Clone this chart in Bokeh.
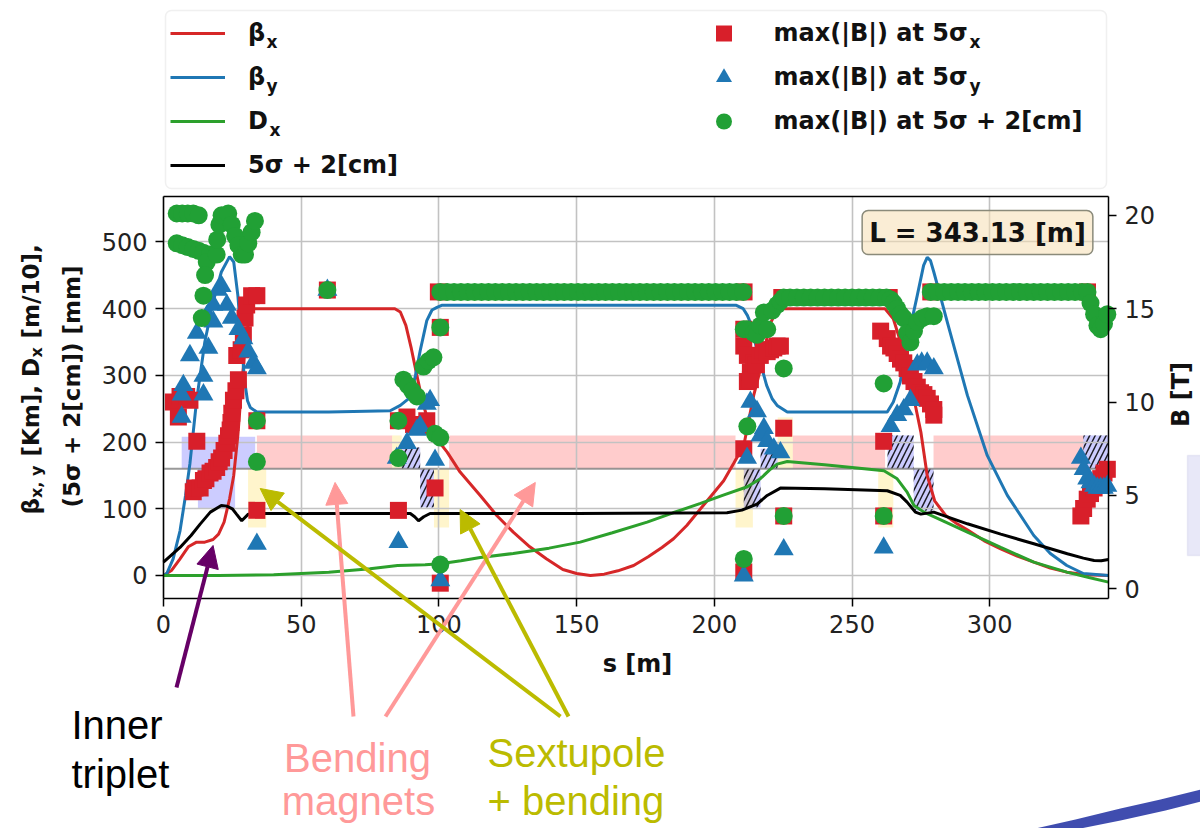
from math import pi
from bokeh.plotting import figure
from bokeh.models import (Range1d, LinearAxis, Legend, LegendItem, Label, Arrow, NormalHead,
                          FixedTicker, BoxAnnotation, PolyAnnotation, Grid)
from bokeh.embed import file_html
from bokeh.resources import INLINE

# ---------------- data ----------------
L_ring = 343.13
x_ticks = [0, 50, 100, 150, 200, 250, 300]
y_ticks = [0, 100, 200, 300, 400, 500]
b_ticks = [0, 5, 10, 15, 20]
xlim = (0, L_ring)
ylim = (-34.5, 568.2)
blim = (-0.52, 21.01)

# beta_x [Km]
s_bx = [0, 3, 6, 9, 12, 15, 18, 20, 22, 24, 25.5, 27, 28.5, 30, 31.5, 33, 50, 70, 84, 86,
        88, 90, 92, 94, 96, 98, 100.5, 103, 107.7, 115, 121, 127, 133, 139, 145, 150, 155, 160, 165, 170.7,
        176, 181, 185.2, 190, 195, 199, 203.4, 207, 210.7, 214.3, 217.4, 220, 223, 240, 262, 265, 268, 270,
        272.5, 275, 277.3, 280, 284, 288, 292, 298, 304, 310, 316, 322, 328, 335, 343.13]
beta_x = [0, 8, 25, 43, 50, 50, 54, 62, 80, 115, 150, 210, 290, 360, 392, 400, 400, 400, 400, 395,
          375, 340, 300, 262, 232, 212, 198, 185, 155, 120, 90, 65, 43, 25, 9, 3, 0, 2, 7, 15,
          28, 42, 55, 75, 100, 120, 142, 168, 195, 270, 320, 375, 400, 400, 400, 385, 345, 305,
          265, 215, 150, 112, 90, 78, 68, 52, 40, 29, 20, 11, 5, 1, 0]

# beta_y [Km]
s_by = [0, 1.2, 3.5, 6, 8, 9.6, 12, 15, 18, 21, 24, 25.5, 27, 28.5, 29.5, 30.5, 31.5, 33.9, 60, 82.3,
        86, 89.6, 91.5, 93.2, 95.6, 97.5, 99.3, 101, 150, 208, 210.5, 212, 213, 216, 219, 221, 222.8, 226.5,
        262.8, 265, 267.5, 270, 273.7, 276, 277.3, 278.5, 279.7, 282, 284.6, 291.9, 299.1, 306.4, 316,
        322, 328, 334, 343.13]
beta_y = [0, 3, 25, 67, 120, 168, 262, 350, 410, 455, 478, 470, 420, 340, 290, 262, 252, 245, 245, 247,
          255, 267, 300, 337, 382, 398, 402, 405, 405, 405, 400, 390, 380, 330, 285, 265, 255, 245,
          245, 260, 290, 350, 420, 465, 477, 472, 455, 420, 380, 270, 180, 120, 60,
          33, 15, 3, 0]

# D_x [m/10]
s_dx = [0, 20, 40, 60, 75, 85, 95, 100.5, 108, 115, 127, 140, 151.3, 163, 175.6, 185, 195, 203, 212, 216.7,
        220, 222.8, 226.5, 240, 250, 261.6, 266.4, 270, 272.5, 276.1, 284, 291.9, 304, 316, 328, 336, 343.13]
d_x = [0, 0, 1, 5, 10, 15, 16, 17.5, 22, 27, 33, 41, 50, 64, 80, 94, 108, 120, 133, 145,
       158, 167, 171, 166, 162, 157, 145, 125, 105, 95, 80, 65, 42, 20, 5, -3, -10]

# 5 sigma + 2 cm [mm]
s_env = [0, 6, 10, 13.3, 17, 21, 23, 25, 26.5, 28.4, 30.8, 35, 60, 89.6, 91.2, 92.6, 94.5, 96.8, 150, 204.6,
         210, 215.5, 219.2, 224, 240, 262.8, 267.5, 270, 273, 275, 279.7, 291.9, 304, 316, 328.2, 334,
         337.9, 340.5, 343.13]
env = [20, 42, 60, 77, 95, 105, 104, 100, 92, 82, 92, 93, 93, 93, 88, 82, 88, 93, 93, 94,
       98, 107, 120, 131, 130, 127, 120, 110, 95, 92, 95, 77.5, 62, 47.5, 32.5, 26,
       22.5, 22, 24]

# max(|B|) at 5 sigma_x [T]
bx_s = [3.6, 5.4, 6.0, 8.4, 9.6, 12.1, 10.8, 11.4, 13.3, 14.5, 15.4, 16.9, 18.0, 19.3, 20.2, 21.1, 22.0, 23.0,
        23.6, 24.2, 24.5, 24.8, 25.4, 26.3, 27.2, 26.6, 28.2, 29.0, 29.6, 30.2, 32.0, 33.9, 33.9, 33.9, 59.5,
        85.3, 85.3, 88.4, 90.8, 93.2, 95.6, 98.6, 100.5, 100.5, 99.8, 210.8,
        210.7, 210.7, 212.0, 212.0, 213.1, 213.1, 214.3, 215.3, 216.7, 217.8, 219.2, 220.4, 221.6, 222.8,
        224.0, 210.7, 210.7, 225.2, 225.2, 224.5, 263.5,
        261.5, 261.5, 260.4, 262.8, 264.0, 265.2, 266.4, 267.6, 268.8, 270.0, 271.2, 272.5, 273.7, 274.9,
        276.1, 277.3, 278.5, 279.7, 279.7, 278.6, 335.5,
        333.1, 334.1, 335.4, 336.6, 337.9, 339.1, 340.3, 341.5, 342.7]
bx_B = [10.0, 9.2, 10.3, 10.3, 10.1, 7.9, 5.2, 5.4, 5.4, 5.8, 5.9, 6.2, 6.3, 6.5, 6.8, 7.0, 7.4, 7.8,
        8.2, 8.5, 8.9, 9.4, 10.1, 10.6, 11.2, 12.5, 12.8, 13.6, 14.5, 15.2, 15.7, 15.7, 9.0, 4.2, 16.0,
        9.0, 4.2, 9.2, 8.8, 8.7, 9.0, 5.4, 0.3, 14.0, 15.9, 15.9,
        13.9, 13.0, 12.5, 11.1, 11.6, 11.2, 12.1, 12.0, 12.5, 12.8, 12.7, 12.8, 12.9, 13.0,
        13.0, 7.5, 0.9, 8.6, 3.9, 15.6, 15.6,
        7.9, 3.9, 13.8, 13.4, 13.0, 12.9, 12.6, 12.3, 12.1, 11.8, 11.4, 11.1, 10.8, 10.5,
        10.4, 10.2, 9.9, 9.6, 9.3, 15.9, 15.9,
        3.9, 4.3, 4.8, 5.1, 5.4, 5.6, 5.9, 6.2, 6.4]

# max(|B|) at 5 sigma_y [T]
by_s = [6.6, 6.6, 7.2, 9.6, 12.1, 15.7, 18.1, 21.1, 14.5, 16.3, 18.1, 19.8, 23.0, 24.8, 27.2, 29.0, 30.8,
        32.6, 33.9, 33.9, 14.5, 59.5,
        84.7, 85.3, 88.4, 92.0, 93.2, 95.6, 96.8, 98.6, 100.5,
        213.1, 215.5, 216.7, 218.0, 219.2, 221.6, 224.0, 211.9, 225.2, 210.7,
        261.5, 264.0, 266.4, 268.8, 271.2, 273.7, 275.3, 277.3, 279.7,
        333.1, 334.1, 335.4, 336.6, 337.9, 339.1, 340.3, 341.4, 342.7]
by_B = [10.4, 9.2, 10.9, 12.5, 13.7, 14.6, 15.2, 16.2, 11.4, 12.9, 14.3, 16.0, 15.2, 14.5, 13.9, 13.4, 12.7,
        12.1, 11.8, 2.4, 10.4, 16.0,
        7.0, 2.5, 7.8, 8.5, 8.7, 9.9, 10.1, 6.9, 0.45,
        10.0, 9.5, 8.2, 8.6, 7.9, 7.5, 7.3, 7.0, 2.1, 0.7,
        2.2, 8.7, 9.3, 9.6, 10.1, 12.0, 12.1, 12.1, 11.8,
        7.0, 6.4, 5.9, 5.7, 5.5, 5.4, 5.4, 5.4, 5.5]

# max(|B|) at 5 sigma + 2 cm [T]
bc_s_ir = [4.8, 6.8, 8.8, 10.8, 12.8, 4.8, 6.8, 8.8, 10.8, 12.8, 14.5, 16.9, 15.7, 15.1, 14.5, 13.9,
           19.3, 19.5, 20.3, 21.1, 23.5, 24.8, 26.0, 27.2, 28.4, 29.6, 30.8, 32.0, 33.2, 33.9, 33.9, 59.5]
bc_B_ir = [20.1, 20.1, 20.1, 20.1, 20.0, 18.5, 18.4, 18.3, 18.2, 18.1, 18.0, 17.9, 17.5, 16.8, 15.7, 14.5,
           17.9, 18.7, 19.5, 20.0, 20.1, 19.5, 18.9, 18.4, 17.9, 17.9, 18.5, 19.1, 19.7, 9.0, 6.8, 16.0]
bc_s_m1 = [85.3, 85.3, 87.1, 88.8, 90.3, 92.0, 94.4, 96.2, 98.0, 98.6, 100.5, 100.5, 100.5]
bc_B_m1 = [9.0, 7.0, 11.2, 10.9, 10.6, 10.3, 11.9, 12.2, 12.4, 8.3, 8.1, 14.0, 1.3]
bc_s_arc1 = [100.5, 103, 105.5, 108, 110.5, 113, 115.5, 118, 120.5, 123, 125.5, 128, 130.5, 133, 135.5,
             138, 140.5, 143, 145.5, 148, 150.5, 153, 155.5, 158, 160.5, 163, 165.5, 168, 170.5, 173,
             175.5, 178, 180.5, 183, 185.5, 188, 190.5, 193, 195.5, 198, 200.5, 203, 205.5, 208, 210.5]
bc_B_arc1 = [15.9] * len(bc_s_arc1)
bc_s_m2 = [210.7, 211.9, 214.3, 215.5, 216.7, 218.0, 219.2, 221.0, 222.8, 224.0, 212.0, 225.2, 225.2, 210.7]
bc_B_m2 = [13.9, 13.9, 13.7, 13.6, 14.1, 14.8, 13.9, 14.9, 15.2, 15.4, 8.7, 11.8, 3.9, 1.6]
bc_s_arc2 = [225.2, 227.5, 230, 232.5, 235, 237.5, 240, 242.5, 245, 247.5, 250, 252.5, 255, 257.5, 260, 262.5]
bc_B_arc2 = [15.6] * len(bc_s_arc2)
bc_s_m3 = [264.0, 265.1, 266.4, 267.6, 268.8, 270.0, 271.2, 272.5, 273.7, 275.5, 277.3, 279.7, 261.5, 261.5]
bc_B_m3 = [15.5, 15.3, 15.0, 14.7, 14.5, 13.7, 13.2, 13.8, 14.3, 14.5, 14.6, 14.6, 11.0, 3.9]
bc_s_arc3 = [278.6, 281, 283.5, 286, 288.5, 291, 293.5, 296, 298.5, 301, 303.5, 306, 308.5, 311, 313.5,
             316, 318.5, 321, 323.5, 326, 328.5, 331, 333.5, 335.5]
bc_B_arc3 = [15.9] * len(bc_s_arc3)
bc_s_end = [336.6, 337.9, 339.1, 340.3, 341.5, 342.7]
bc_B_end = [15.3, 14.7, 14.1, 13.9, 14.2, 14.7]

# lattice sketch (s ranges in m, heights in left-axis units)
lat_base = 160
bend_s0 = [33.9, 103.7, 228.5, 279.6]
bend_s1 = [83.0, 207.7, 262.0, 334.0]
bend_top = [210, 210, 210, 210]
quad_s0 = [6.6, 12.5]
quad_s1 = [33.3, 26.0]
quad_bot = [160, 100]
quad_top = [208, 160]
qh_s0 = [86.5, 93.2, 210.7, 216.8, 262.9, 272.4, 334.0]
qh_s1 = [93.2, 98.2, 216.8, 223.0, 272.4, 279.6, 343.13]
qh_bot = [160, 102, 102, 160, 160, 97, 160]
qh_top = [192, 160, 160, 190, 210, 160, 210]
sx_s0 = [30.7, 83.0, 98.2, 207.7, 223.0, 259.5]
sx_s1 = [37.3, 86.5, 103.7, 214.0, 228.5, 265.0]
sx_bot = [72, 160, 72, 72, 160, 72]
sx_top = [160, 210, 160, 160, 237, 160]

# annotation arrow targets (s [m], left-axis value)
triplet_tip = (18.0, 45)
bend_tips = [(62.3, 139.5), (135.0, 139.5)]
sext_tips = [(35.1, 130.4), (107.7, 99.0)]

# ---------------- page geometry ----------------
W, H = 1200, 828
BOX_L, BOX_R, BOX_T, BOX_B = 163, 1108, 196, 598   # axes box on the page (px)


def x_canvas_range(lim):
    k = (BOX_R - BOX_L) / (lim[1] - lim[0])
    return Range1d(lim[0] - BOX_L / k, lim[0] + (W - BOX_L) / k)


def y_canvas_range(lim):
    k = (BOX_B - BOX_T) / (lim[1] - lim[0])
    return Range1d(lim[0] - (H - BOX_B) / k, lim[0] + BOX_B / k)


def sy(Y):           # page pixel row -> screen units (from bottom)
    return H - Y


RED, BLUE, GREEN = "#d62728", "#1f77b4", "#2ca02c"
MRED, MBLUE, MGREEN = "#d81f2a", "#1f77b4", "#21a035"
FONT = "DejaVu Sans"

p = figure(width=W, height=H, output_backend="svg", toolbar_location=None,
           x_range=x_canvas_range(xlim), y_range=y_canvas_range(ylim),
           x_axis_location=None, y_axis_location=None,
           min_border=0, background_fill_color="white", border_fill_color="white")
p.extra_y_ranges = {"B": y_canvas_range(blim)}
p.outline_line_color = None
p.grid.visible = False

# axes fixed on the box edges
ax_b = LinearAxis(fixed_location=ylim[0], bounds=xlim, ticker=FixedTicker(ticks=x_ticks))
ax_l = LinearAxis(fixed_location=xlim[0], bounds=ylim, ticker=FixedTicker(ticks=y_ticks))
ax_r = LinearAxis(fixed_location=xlim[1], bounds=blim, ticker=FixedTicker(ticks=b_ticks), y_range_name="B")
ax_t = LinearAxis(fixed_location=ylim[1], bounds=xlim, ticker=FixedTicker(ticks=[]))
p.add_layout(ax_b, "below")
p.add_layout(ax_l, "left")
p.add_layout(ax_r, "right")
p.add_layout(ax_t, "above")
for ax in (ax_b, ax_l, ax_r, ax_t):
    ax.major_label_text_font = FONT
    ax.major_label_text_font_size = "24px"
    ax.major_label_text_color = "#222222"
    ax.major_tick_out = 8
    ax.major_tick_in = 0
    ax.minor_tick_out = 0
    ax.minor_tick_in = 0
    ax.axis_line_width = 1.5
    ax.axis_line_color = "black"
    ax.major_tick_line_width = 1.5
    ax.major_label_standoff = 8

# grid limited to the box
grid_style = dict(grid_line_color="#c2c2c2", grid_line_width=1.6)
try:
    gx = Grid(dimension=0, ticker=FixedTicker(ticks=x_ticks), cross_bounds=ylim, **grid_style)
    gy = Grid(dimension=1, ticker=FixedTicker(ticks=y_ticks), cross_bounds=xlim, **grid_style)
    p.add_layout(gx)
    p.add_layout(gy)
except AttributeError:
    p.segment(x0=x_ticks, y0=ylim[0], x1=x_ticks, y1=ylim[1], line_color="#c2c2c2", line_width=1.6,
              level="underlay")
    p.segment(x0=xlim[0], y0=y_ticks, x1=xlim[1], y1=y_ticks, line_color="#c2c2c2", line_width=1.6,
              level="underlay")

# lattice
p.quad(left=bend_s0, right=bend_s1, bottom=lat_base, top=bend_top, fill_color="red", fill_alpha=0.2,
       line_color=None, level="image")
p.quad(left=sx_s0, right=sx_s1, bottom=sx_bot, top=sx_top, fill_color="#ffcc00", fill_alpha=0.2,
       line_color=None, level="image")
p.quad(left=quad_s0, right=quad_s1, bottom=quad_bot, top=quad_top, fill_color="blue", fill_alpha=0.2,
       line_color=None, level="image")
p.quad(left=qh_s0, right=qh_s1, bottom=qh_bot, top=qh_top, fill_color="blue", fill_alpha=0.2,
       line_color=None, hatch_pattern="/", hatch_color="black", hatch_weight=1.5, hatch_scale=11,
       hatch_alpha=0.85, level="image")
p.segment(x0=xlim[0], y0=lat_base, x1=xlim[1], y1=lat_base, line_color="#7f7f7f", line_width=2,
          line_alpha=0.8, level="underlay")

# optics lines
r_bx = p.line(s_bx, beta_x, line_color=RED, line_width=3)
r_by = p.line(s_by, beta_y, line_color=BLUE, line_width=3)
r_dx = p.line(s_dx, d_x, line_color=GREEN, line_width=3)
r_env = p.line(s_env, env, line_color="black", line_width=3)

# field markers (right axis)
r_sq = p.scatter(bx_s, bx_B, marker="square", size=17, fill_color=MRED, line_color=None, y_range_name="B")
r_tri = p.scatter(by_s, by_B, marker="triangle", size=20, fill_color=MBLUE, line_color=None, y_range_name="B")
bc_s = bc_s_ir + bc_s_m1 + bc_s_arc1 + bc_s_m2 + bc_s_arc2 + bc_s_m3 + bc_s_arc3 + bc_s_end
bc_B = bc_B_ir + bc_B_m1 + bc_B_arc1 + bc_B_m2 + bc_B_arc2 + bc_B_m3 + bc_B_arc3 + bc_B_end
r_circ = p.scatter(bc_s, bc_B, marker="circle", size=18, fill_color=MGREEN, line_color=None, y_range_name="B")

# legend frame (drawn as a box so that the subscript labels stay visible)
p.add_layout(BoxAnnotation(left=165, right=1106, bottom=sy(188), top=sy(10),
                           left_units="screen", right_units="screen", bottom_units="screen",
                           top_units="screen", fill_color="white", fill_alpha=0.9,
                           line_color="#cccccc", line_width=1.5, border_radius=6))

leg_common = dict(label_text_font=FONT, label_text_font_style="bold", label_text_font_size="24px",
                  label_text_color="#111111", glyph_width=55, glyph_height=40, label_height=40,
                  spacing=4, padding=3, label_standoff=23, margin=0,
                  border_line_alpha=0, background_fill_alpha=0)
leg1 = Legend(items=[LegendItem(label="β", renderers=[r_bx]),
                     LegendItem(label="β", renderers=[r_by]),
                     LegendItem(label="D", renderers=[r_dx]),
                     LegendItem(label="5σ + 2[cm]", renderers=[r_env])],
              location=(167, sy(188)), label_width=300, **leg_common)
leg2 = Legend(items=[LegendItem(label="max(|B|) at 5σ", renderers=[r_sq]),
                     LegendItem(label="max(|B|) at 5σ", renderers=[r_tri]),
                     LegendItem(label="max(|B|) at 5σ + 2[cm]", renderers=[r_circ])],
              location=(692.5, sy(144)), label_width=300, **leg_common)
p.add_layout(leg1)
p.add_layout(leg2)

sub = dict(x_units="screen", y_units="screen", text_font=FONT, text_font_style="bold",
           text_font_size="17px", text_baseline="middle", text_color="#111111")
p.add_layout(Label(x=266, y=sy(41), text="x", **sub))
p.add_layout(Label(x=266, y=sy(85), text="y", **sub))
p.add_layout(Label(x=269, y=sy(129), text="x", **sub))
p.add_layout(Label(x=969, y=sy(41), text="x", **sub))
p.add_layout(Label(x=969, y=sy(85), text="y", **sub))

# axis titles (rotated, pieces read bottom-to-top; subscripts shifted toward the plot)
rot = dict(x_units="screen", y_units="screen", text_font=FONT, text_font_style="bold",
           text_baseline="middle", text_color="#111111", angle=pi / 2)
big, small = "23px", "16px"
p.add_layout(Label(x=30, y=sy(514), text="β", text_font_size=big, **rot))
p.add_layout(Label(x=36, y=sy(497.5), text="x, y", text_font_size=small, **rot))
p.add_layout(Label(x=30, y=sy(456), text="[Km], D", text_font_size=big, **rot))
p.add_layout(Label(x=36, y=sy(357), text="x", text_font_size=small, **rot))
p.add_layout(Label(x=30, y=sy(338), text="[m/10],", text_font_size=big, **rot))
ttl = dict(x_units="screen", y_units="screen", text_font=FONT, text_font_style="bold",
           text_font_size="23px", text_align="center", text_baseline="middle", text_color="#111111")
p.add_layout(Label(x=71, y=sy(386), text="(5σ + 2[cm]) [mm]", angle=pi / 2, **ttl))
p.add_layout(Label(x=1180, y=sy(394), text="B [T]", angle=pi / 2, **dict(ttl, text_font_size="24px")))
p.add_layout(Label(x=637, y=sy(663), text="s [m]", **dict(ttl, text_font_size="24px")))

# length box
p.add_layout(Label(x=977, y=sy(232), x_units="screen", y_units="screen", text="L = 343.13 [m]",
                   text_font=FONT, text_font_style="bold", text_font_size="26px", text_align="center",
                   text_baseline="middle", text_color="#111111", background_fill_color="#f5deb3",
                   background_fill_alpha=0.55, border_line_color="#8a8a7a", border_line_width=1.5,
                   padding=7, border_radius=6))


# annotations
def arrow(x0, y0, tip, color):
    p.add_layout(Arrow(end=NormalHead(size=22, fill_color=color, line_color=color, line_width=1),
                       x_start=x0, y_start=sy(y0), start_units="screen",
                       x_end=tip[0], y_end=tip[1], end_units="data",
                       line_color=color, line_width=4))


PURPLE, PINK, OLIVE = "#660066", "#ff9999", "#bbbb00"
arrow(176, 687, triplet_tip, PURPLE)
arrow(353, 716, bend_tips[0], PINK)
arrow(385, 716, bend_tips[1], PINK)
arrow(560, 716, sext_tips[0], OLIVE)
arrow(568, 716, sext_tips[1], OLIVE)

ann = dict(x_units="screen", y_units="screen", text_font="Liberation Sans", text_font_size="40px",
           text_baseline="alphabetic")
p.add_layout(Label(x=71, y=sy(724), text="Inner", text_color="black", **ann))
p.add_layout(Label(x=71, y=sy(773), text="triplet", text_color="black", **ann))
p.add_layout(Label(x=357, y=sy(757), text="Bending", text_color=PINK, text_align="center", **ann))
p.add_layout(Label(x=358, y=sy(800), text="magnets", text_color=PINK, text_align="center", **ann))
p.add_layout(Label(x=487, y=sy(752), text="Sextupole", text_color=OLIVE, **ann))
p.add_layout(Label(x=487, y=sy(800), text="+ bending", text_color=OLIVE, **ann))

# slide decorations at the right edge
p.add_layout(BoxAnnotation(left=1187, right=1203, bottom=sy(555), top=sy(455),
                           left_units="screen", right_units="screen", bottom_units="screen",
                           top_units="screen", fill_color="#e8e8f8", fill_alpha=1,
                           line_color="#c6c6e6", line_width=1.5))
brush_x = [1035, 1075, 1120, 1160, 1200, 1200, 1165, 1120, 1080]
brush_y = [828, 819, 808, 799, 789, 801, 810, 820, 828]
p.add_layout(PolyAnnotation(xs=brush_x, ys=[sy(v) for v in brush_y],
                            xs_units="screen", ys_units="screen", fill_color="#2b3aa6",
                            fill_alpha=0.9, line_color=None))

open("out.html", "w").write(file_html(p, INLINE))
